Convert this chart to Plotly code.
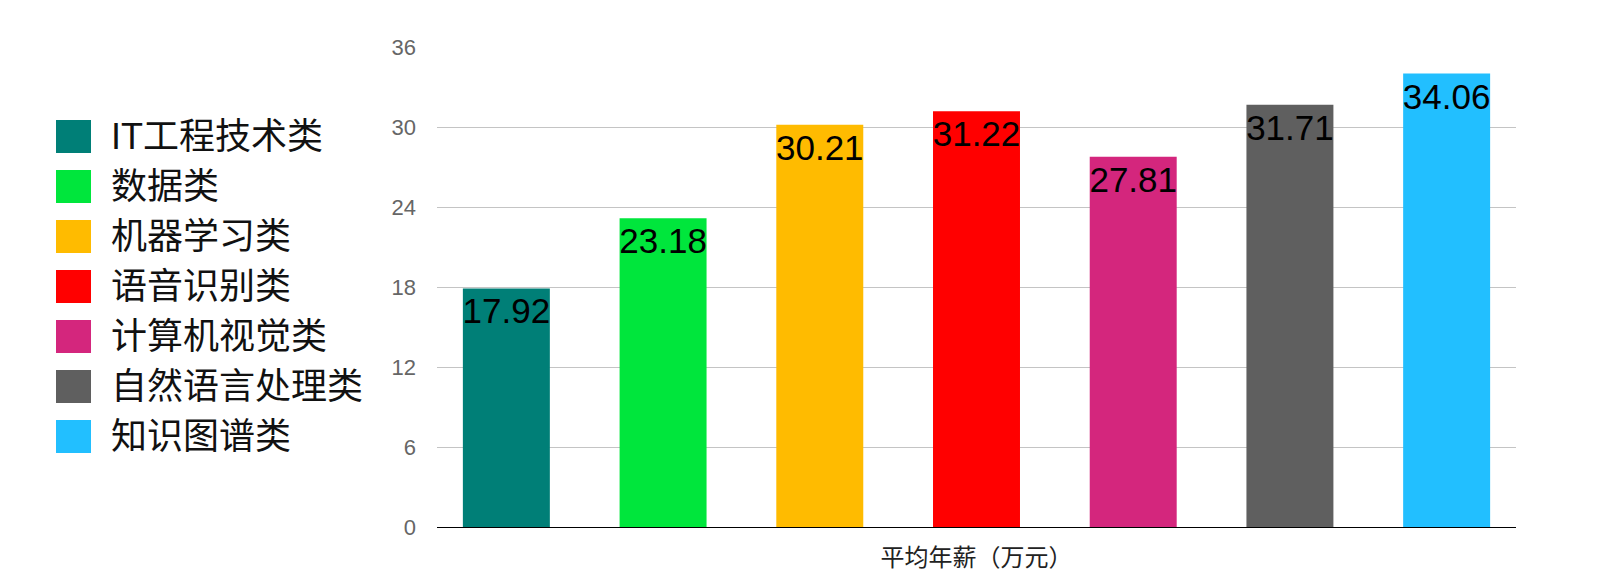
import plotly.graph_objects as go

category = "平均年薪（万元）"
series_names = ["IT工程技术类", "数据类", "机器学习类", "语音识别类",
                "计算机视觉类", "自然语言处理类", "知识图谱类"]
salaries = [17.92, 23.18, 30.21, 31.22, 27.81, 31.71, 34.06]
colors = ["#007f77", "#00e63c", "#ffbb00", "#ff0000",
          "#d4267d", "#5f5f5f", "#22bfff"]
y_ticks = [0, 6, 12, 18, 24, 30, 36]

FONT = "Liberation Sans, Arial, Noto Sans CJK SC, sans-serif"
W, H = 1600, 585
OFF = 8  # page body margin shifts the figure by 8px
ML, MT = 437 - OFF, 47 - OFF
PW, PH = 1079, 480
MR, MB = W - ML - PW, H - MT - PH


def px_to_paper(x, y):
    # x, y are target page pixels
    x -= OFF
    y -= OFF
    return (x - ML) / PW, (MT + PH - y) / PH


fig = go.Figure()
for name, val, col in zip(series_names, salaries, colors):
    fig.add_trace(go.Bar(
        x=[category], y=[val], name=name,
        marker=dict(color=col, line_width=0),
        texttemplate="%{y:.2f}",
        textposition="inside",
        insidetextanchor="end",
        constraintext="none",
        textangle=0,
        textfont=dict(color="black", size=35, family=FONT),
        showlegend=False,
    ))

# hand-drawn legend with large swatches, as in the reference
shapes, annots = [], []
for i, (name, col) in enumerate(zip(series_names, colors)):
    top = 120 + 50 * i
    x0, y0 = px_to_paper(56, top)
    x1, y1 = px_to_paper(91, top + 33)
    shapes.append(dict(type="rect", xref="paper", yref="paper",
                       x0=x0, x1=x1, y0=y1, y1=y0,
                       fillcolor=col, line_width=0))
    tx, ty = px_to_paper(109, top + 16.5)
    annots.append(dict(text=name, xref="paper", yref="paper", x=tx, y=ty,
                       xanchor="left", yanchor="middle", showarrow=False,
                       font=dict(size=36, color="#111", family=FONT)))

fig.update_layout(
    width=W, height=H,
    margin=dict(l=ML, r=MR, t=MT, b=MB),
    paper_bgcolor="white", plot_bgcolor="white",
    barmode="group", bargap=0, bargroupgap=0.445,
    font=dict(family=FONT),
    shapes=shapes, annotations=annots,
    xaxis=dict(
        type="category", range=[-0.4918, 0.4918],
        showline=True, linecolor="black", linewidth=1.2,
        ticks="", tickfont=dict(size=24, color="#222"),
        ticklabelstandoff=9,
        showgrid=False, zeroline=False,
    ),
    yaxis=dict(
        range=[0, 36.05], tickvals=y_ticks,
        gridcolor="#c4c4c4", gridwidth=1,
        zeroline=False, showline=False, ticks="",
        tickfont=dict(size=22, color="#666"),
        ticklabelstandoff=20,
    ),
)

fig.write_html("out.html")
